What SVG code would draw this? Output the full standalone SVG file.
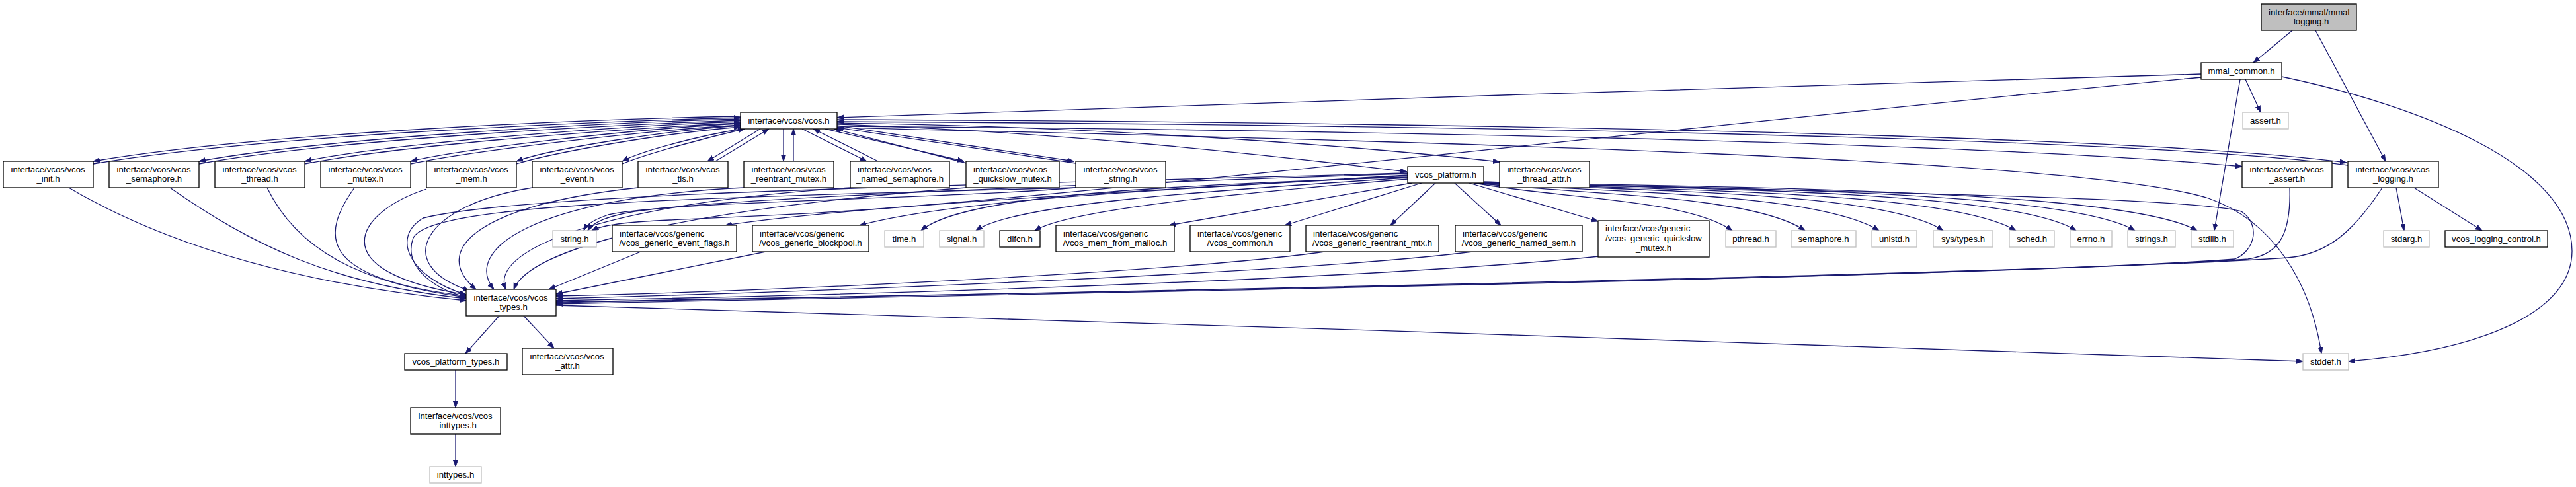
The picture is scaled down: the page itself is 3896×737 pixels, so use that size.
<svg xmlns="http://www.w3.org/2000/svg" width="3896" height="737" viewBox="0 0 3896 737">
<style>
.box{fill:#fff;stroke:#000;stroke-width:1.3}
.sys{fill:#fff;stroke:#bfbfbf;stroke-width:1.3}
.root{fill:#bfbfbf;stroke:#000;stroke-width:1.3}
text{font-family:"Liberation Sans",Arial,sans-serif;font-size:13.2px;fill:#000}
.c{text-anchor:middle}
#edges path{fill:none;stroke:#191970;stroke-width:1.3;marker-end:url(#a)}
</style>
<defs>
<marker id="a" markerUnits="userSpaceOnUse" markerWidth="11" markerHeight="9" refX="10" refY="4" orient="auto"><path d="M0,0.3 L10,4 L0,7.7 z" fill="#191970" stroke="#191970" stroke-width="0.8"/></marker>
</defs>
<rect width="3896" height="737" fill="#fff"/>
<g id="edges">
<path d="M3467,46 L3408,95"/>
<path d="M3502,46 L3608,244"/>
<path d="M3396,120 L3419,170"/>
<path d="M3388,120 L3349,349"/>
<path d="M3451,116 C3660,160 3890,250 3890,380 C3890,470 3760,530 3552,547"/>
<path d="M3329,112 C2800,125 1800,160 1266,178"/>
<path d="M3329,117 C2700,175 1700,290 1300,318 C1050,335 930,330 895,349"/>
<path d="M1120,176 C900,180 400,200 141,244"/>
<path d="M141,248 C400,204 900,184 1120,178"/>
<path d="M1120,180 C900,186 500,208 301,244"/>
<path d="M301,248 C500,212 900,190 1120,182"/>
<path d="M1120,184 C950,190 600,215 461,244"/>
<path d="M461,248 C610,219 950,194 1120,186"/>
<path d="M1120,187 C960,195 700,225 621,244"/>
<path d="M621,248 C710,229 960,199 1120,189"/>
<path d="M1120,190 C1000,198 830,226 781,244"/>
<path d="M781,248 C840,230 1000,202 1120,192"/>
<path d="M1122,195 C1060,205 970,228 941,244"/>
<path d="M941,248 C980,232 1066,209 1126,195"/>
<path d="M1150,195 L1070,244"/>
<path d="M1082,244 L1163,195"/>
<path d="M1185,195 L1185,244"/>
<path d="M1200,244 L1200,195"/>
<path d="M1213,195 L1311,244"/>
<path d="M1328,244 L1230,195"/>
<path d="M1248,195 L1458,244"/>
<path d="M1462,247 L1262,195"/>
<path d="M1266,190 L1624,244"/>
<path d="M1627,247 L1266,193"/>
<path d="M1266,186 C1600,190 2000,215 2268,245"/>
<path d="M1266,188 C1600,200 1900,232 2128,260"/>
<path d="M1266,181 C2000,184 3200,200 3549,246"/>
<path d="M3551,250 C3200,204 2000,188 1266,184"/>
<path d="M1266,191 C2000,196 3000,215 3391,252"/>
<path d="M1266,193 C2200,215 3150,240 3340,300 C3440,335 3495,430 3511,535"/>
<path d="M2129,263 C1600,280 1100,300 960,320 C920,327 898,335 889,349"/>
<path d="M1627,284 C1450,300 1000,305 920,325 C900,332 888,338 883,349"/>
<path d="M2129,265 C1800,285 1300,310 1097,341"/>
<path d="M2129,266 C1800,285 1450,300 1300,341"/>
<path d="M2129,268 C1700,282 1450,300 1393,349"/>
<path d="M2129,269 C1800,290 1530,310 1476,349"/>
<path d="M2129,271 C1900,290 1620,315 1565,349"/>
<path d="M2135,277 L1768,341"/>
<path d="M2150,277 L1943,341"/>
<path d="M2171,277 L2103,341"/>
<path d="M2200,277 L2270,341"/>
<path d="M2222,277 L2417,335"/>
<path d="M2230,277 C2350,300 2550,300 2620,349"/>
<path d="M2232,277 C2400,295 2650,295 2730,349"/>
<path d="M2234,277 C2450,292 2750,292 2842,349"/>
<path d="M2236,277 C2500,290 2850,290 2939,349"/>
<path d="M2238,277 C2550,288 2950,290 3049,349"/>
<path d="M2240,277 C2600,286 3050,290 3140,349"/>
<path d="M2242,277 C2650,285 3130,290 3229,349"/>
<path d="M2244,276 C2700,284 3220,290 3323,349"/>
<path d="M2244,275 C2600,288 3300,295 3390,320 C3420,340 3410,380 3380,392 C3000,420 1500,446 841,460"/>
<path d="M2129,262 C1500,280 800,290 640,330 C590,360 620,420 705,446"/>
<path d="M1627,284 C1000,300 650,310 625,360 C610,400 650,435 705,450"/>
<path d="M104,284 C250,370 450,430 705,455"/>
<path d="M257,284 C380,370 500,430 705,452"/>
<path d="M404,284 C450,380 550,430 705,450"/>
<path d="M536,284 C490,350 470,420 705,448"/>
<path d="M645,286 C540,320 480,410 705,446"/>
<path d="M805,284 C640,310 590,400 710,440"/>
<path d="M965,284 C720,310 650,380 720,438"/>
<path d="M1125,284 C800,300 700,380 747,438"/>
<path d="M1286,284 C900,310 740,380 765,438"/>
<path d="M1461,284 C1000,320 800,380 777,438"/>
<path d="M969,381 L830,438"/>
<path d="M1158,381 L841,445"/>
<path d="M2003,381 C1800,410 1200,440 841,448"/>
<path d="M2227,381 C2000,410 1300,440 841,452"/>
<path d="M2418,388 C2100,420 1400,445 841,455"/>
<path d="M3463,284 C3465,350 3450,385 3400,392 C3000,420 1500,445 841,457"/>
<path d="M3603,284 C3560,350 3520,385 3460,390 C3100,415 1500,445 841,458"/>
<path d="M841,462 C1500,480 3000,530 3483,547"/>
<path d="M755,478 L704,535"/>
<path d="M792,478 L838,527"/>
<path d="M689,560 L689,617"/>
<path d="M689,657 L689,706"/>
<path d="M3624,284 L3636,349"/>
<path d="M3651,284 L3754,349"/>
</g>
<g id="n_mmal_logging"><rect class="root" x="3420" y="6" width="144" height="40"/><text x="3431" y="23">interface/mmal/mmal</text><text class="c" x="3492" y="37">_logging.h</text></g>
<g id="n_mmal_common"><rect class="box" x="3329" y="95" width="122" height="25"/><text class="c" x="3390" y="111.5">mmal_common.h</text></g>
<g id="n_vcos"><rect class="box" x="1120" y="170" width="146" height="25"/><text class="c" x="1193" y="186.5">interface/vcos/vcos.h</text></g>
<g id="n_assert"><rect class="sys" x="3392" y="170" width="69" height="25"/><text class="c" x="3426.5" y="186.5">assert.h</text></g>
<g id="n_vcos_init"><rect class="box" x="5" y="244" width="136" height="40"/><text x="16.5" y="261">interface/vcos/vcos</text><text class="c" x="73" y="275">_init.h</text></g>
<g id="n_vcos_semaphore"><rect class="box" x="165" y="244" width="136" height="40"/><text x="176.5" y="261">interface/vcos/vcos</text><text class="c" x="233" y="275">_semaphore.h</text></g>
<g id="n_vcos_thread"><rect class="box" x="325" y="244" width="136" height="40"/><text x="336.5" y="261">interface/vcos/vcos</text><text class="c" x="393" y="275">_thread.h</text></g>
<g id="n_vcos_mutex"><rect class="box" x="485" y="244" width="136" height="40"/><text x="496.5" y="261">interface/vcos/vcos</text><text class="c" x="553" y="275">_mutex.h</text></g>
<g id="n_vcos_mem"><rect class="box" x="645" y="244" width="136" height="40"/><text x="656.5" y="261">interface/vcos/vcos</text><text class="c" x="713" y="275">_mem.h</text></g>
<g id="n_vcos_event"><rect class="box" x="805" y="244" width="136" height="40"/><text x="816.5" y="261">interface/vcos/vcos</text><text class="c" x="873" y="275">_event.h</text></g>
<g id="n_vcos_tls"><rect class="box" x="965" y="244" width="136" height="40"/><text x="976.5" y="261">interface/vcos/vcos</text><text class="c" x="1033" y="275">_tls.h</text></g>
<g id="n_vcos_reentrant_mutex"><rect class="box" x="1125" y="244" width="136" height="40"/><text x="1136.5" y="261">interface/vcos/vcos</text><text class="c" x="1193" y="275">_reentrant_mutex.h</text></g>
<g id="n_vcos_named_semaphore"><rect class="box" x="1286" y="244" width="150" height="40"/><text x="1297" y="261">interface/vcos/vcos</text><text class="c" x="1361" y="275">_named_semaphore.h</text></g>
<g id="n_vcos_quickslow_mutex"><rect class="box" x="1461" y="244" width="141" height="40"/><text x="1472" y="261">interface/vcos/vcos</text><text class="c" x="1531.5" y="275">_quickslow_mutex.h</text></g>
<g id="n_vcos_string"><rect class="box" x="1627" y="244" width="136" height="40"/><text x="1638.5" y="261">interface/vcos/vcos</text><text class="c" x="1695" y="275">_string.h</text></g>
<g id="n_vcos_platform"><rect class="box" x="2129" y="252" width="115" height="25"/><text class="c" x="2186.5" y="268.5">vcos_platform.h</text></g>
<g id="n_vcos_thread_attr"><rect class="box" x="2268" y="244" width="136" height="40"/><text x="2279.5" y="261">interface/vcos/vcos</text><text class="c" x="2336" y="275">_thread_attr.h</text></g>
<g id="n_vcos_assert"><rect class="box" x="3391" y="244" width="136" height="40"/><text x="3402.5" y="261">interface/vcos/vcos</text><text class="c" x="3459" y="275">_assert.h</text></g>
<g id="n_vcos_logging"><rect class="box" x="3551" y="244" width="137" height="40"/><text x="3562.5" y="261">interface/vcos/vcos</text><text class="c" x="3619.5" y="275">_logging.h</text></g>
<g id="n_string"><rect class="sys" x="836" y="349" width="66" height="25"/><text class="c" x="869" y="365.5">string.h</text></g>
<g id="n_generic_event_flags"><rect class="box" x="926" y="341" width="188" height="40"/><text x="937" y="358">interface/vcos/generic</text><text class="c" x="1020" y="372">/vcos_generic_event_flags.h</text></g>
<g id="n_generic_blockpool"><rect class="box" x="1138" y="341" width="176" height="40"/><text x="1149" y="358">interface/vcos/generic</text><text class="c" x="1226" y="372">/vcos_generic_blockpool.h</text></g>
<g id="n_time"><rect class="sys" x="1338" y="349" width="59" height="25"/><text class="c" x="1367.5" y="365.5">time.h</text></g>
<g id="n_signal"><rect class="sys" x="1421" y="349" width="67" height="25"/><text class="c" x="1454.5" y="365.5">signal.h</text></g>
<g id="n_dlfcn"><rect class="box" x="1512" y="349" width="61" height="25"/><text class="c" x="1542.5" y="365.5">dlfcn.h</text></g>
<g id="n_mem_from_malloc"><rect class="box" x="1597" y="341" width="179" height="40"/><text x="1608" y="358">interface/vcos/generic</text><text class="c" x="1686.5" y="372">/vcos_mem_from_malloc.h</text></g>
<g id="n_vcos_common"><rect class="box" x="1800" y="341" width="151" height="40"/><text x="1811" y="358">interface/vcos/generic</text><text class="c" x="1875.5" y="372">/vcos_common.h</text></g>
<g id="n_generic_reentrant_mtx"><rect class="box" x="1975" y="341" width="201" height="40"/><text x="1986" y="358">interface/vcos/generic</text><text class="c" x="2075.5" y="372">/vcos_generic_reentrant_mtx.h</text></g>
<g id="n_generic_named_sem"><rect class="box" x="2201" y="341" width="192" height="40"/><text x="2212" y="358">interface/vcos/generic</text><text class="c" x="2297" y="372">/vcos_generic_named_sem.h</text></g>
<g id="n_generic_quickslow"><rect class="box" x="2417" y="334" width="168" height="55"/><text x="2428" y="350">interface/vcos/generic</text><text x="2428" y="365">/vcos_generic_quickslow</text><text class="c" x="2501" y="379.5">_mutex.h</text></g>
<g id="n_pthread"><rect class="sys" x="2610" y="349" width="76" height="25"/><text class="c" x="2648" y="365.5">pthread.h</text></g>
<g id="n_semaphore"><rect class="sys" x="2709" y="349" width="98" height="25"/><text class="c" x="2758" y="365.5">semaphore.h</text></g>
<g id="n_unistd"><rect class="sys" x="2831" y="349" width="68" height="25"/><text class="c" x="2865" y="365.5">unistd.h</text></g>
<g id="n_sys_types"><rect class="sys" x="2924" y="349" width="90" height="25"/><text class="c" x="2969" y="365.5">sys/types.h</text></g>
<g id="n_sched"><rect class="sys" x="3039" y="349" width="68" height="25"/><text class="c" x="3073" y="365.5">sched.h</text></g>
<g id="n_errno"><rect class="sys" x="3131" y="349" width="63" height="25"/><text class="c" x="3162.5" y="365.5">errno.h</text></g>
<g id="n_strings"><rect class="sys" x="3218" y="349" width="72" height="25"/><text class="c" x="3254" y="365.5">strings.h</text></g>
<g id="n_stdlib"><rect class="sys" x="3314" y="349" width="64" height="25"/><text class="c" x="3346" y="365.5">stdlib.h</text></g>
<g id="n_stdarg"><rect class="sys" x="3605" y="349" width="69" height="25"/><text class="c" x="3639.5" y="365.5">stdarg.h</text></g>
<g id="n_vcos_logging_control"><rect class="box" x="3698" y="349" width="155" height="25"/><text class="c" x="3775.5" y="365.5">vcos_logging_control.h</text></g>
<g id="n_vcos_types"><rect class="box" x="705" y="438" width="136" height="40"/><text x="716.5" y="455">interface/vcos/vcos</text><text class="c" x="773" y="469">_types.h</text></g>
<g id="n_vcos_platform_types"><rect class="box" x="612" y="535" width="155" height="25"/><text class="c" x="689.5" y="551.5">vcos_platform_types.h</text></g>
<g id="n_vcos_attr"><rect class="box" x="790" y="527" width="137" height="40"/><text x="801.5" y="544">interface/vcos/vcos</text><text class="c" x="858.5" y="558">_attr.h</text></g>
<g id="n_stddef"><rect class="sys" x="3483" y="535" width="69" height="25"/><text class="c" x="3517.5" y="551.5">stddef.h</text></g>
<g id="n_vcos_inttypes"><rect class="box" x="621" y="617" width="136" height="40"/><text x="632.5" y="634">interface/vcos/vcos</text><text class="c" x="689" y="648">_inttypes.h</text></g>
<g id="n_inttypes"><rect class="sys" x="650" y="706" width="78" height="25"/><text class="c" x="689" y="722.5">inttypes.h</text></g>
</svg>
